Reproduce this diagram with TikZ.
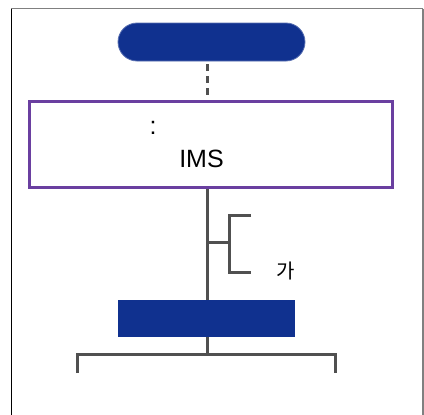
\documentclass[tikz,border=0pt]{standalone}
\usepackage{fontspec}
\setmainfont{Liberation Sans}
\newfontfamily\krfont{Noto Sans CJK KR}
\definecolor{navy}{RGB}{16,49,143}
\definecolor{frameviolet}{RGB}{106,63,160}
\definecolor{linegray}{RGB}{80,80,80}
\begin{document}
\begin{tikzpicture}[x=1pt,y=1pt,
  pill/.style={fill=navy,draw=navy!70!white,line width=0.8pt,rounded corners=19pt,minimum width=187pt,minimum height=38pt,inner sep=0pt},
  mainbox/.style={draw=frameviolet,line width=3pt,fill=white,minimum width=363pt,minimum height=86pt,inner sep=0pt},
  bluebar/.style={fill=navy,minimum width=177pt,minimum height=37pt,inner sep=0pt},
  conn/.style={draw=linegray,line width=3pt},
  dashconn/.style={draw=linegray,line width=3pt,dash pattern=on 7pt off 5pt},
  lbl/.style={inner sep=0pt,text=black}]
\useasboundingbox (0,0) rectangle (424,-415);
% outer frame
\draw[gray,line width=1.5pt] (11,-8.5) -- (423,-8.5);
\draw[gray,line width=2pt] (422.5,-8.5) -- (422.5,-415);
\draw[black,line width=1.5pt] (11.5,-8.5) -- (11.5,-415);
% nodes
\node[pill] (top) at (211.5,-42) {};
\node[mainbox] (box) at (210.5,-144) {};
\node[lbl,font=\fontsize{25}{28}\selectfont] (ims) at (201.5,-158.5) {IMS};
\node[lbl,font=\fontsize{25}{28}\selectfont,anchor=base] (colon) at (153,-134) {:};
\node[bluebar] (bar) at (206.5,-318.5) {};
\node[lbl,font=\krfont\fontsize{20}{22}\selectfont] (ga) at (285.5,-270.5) {가};
% coordinates
\coordinate (c1) at (207,-64);
\coordinate (c2) at (207,-96);
\coordinate (j) at (207,-242);
\coordinate (bk) at (229,-242);
\coordinate (bt) at (229,-215);
\coordinate (bb) at (229,-272);
\coordinate (bte) at (251,-215);
\coordinate (bbe) at (251,-272);
\coordinate (split) at (207,-354);
\coordinate (lft) at (77,-354);
\coordinate (rgt) at (335,-354);
\coordinate (lftd) at (77,-373);
\coordinate (rgtd) at (335,-373);
% connectors
\draw[dashconn] (c1) -- (c2);
\draw[conn] (box.south -| j) -- (bar.north -| j);
\draw[conn] (j) -- (bk);
\draw[conn] (bte) -- (bt) -- (bb) -- (bbe);
\draw[conn] (bar.south -| split) -- (split);
\draw[conn] (lftd) -- (lft) -- (rgt) -- (rgtd);
\end{tikzpicture}
\end{document}
